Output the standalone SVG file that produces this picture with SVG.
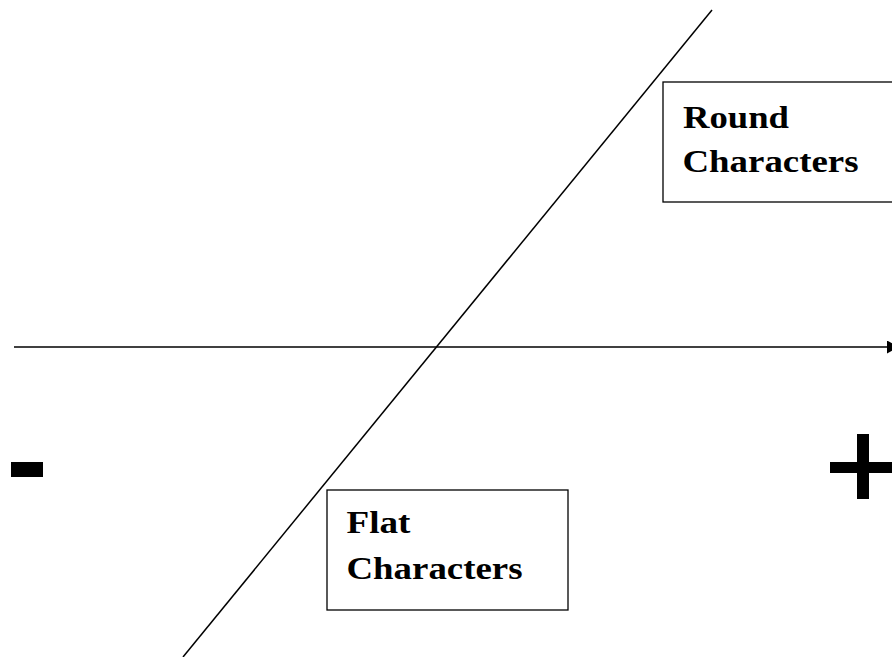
<svg xmlns="http://www.w3.org/2000/svg" width="892" height="657" viewBox="0 0 892 657">
<style>
.box{fill:#fff;stroke:#000;stroke-width:1.3}
.ln{stroke:#000;stroke-width:1.5;fill:none}
.lbl{font-family:"Liberation Serif",serif;font-weight:bold;font-size:36px;fill:#000}
</style>
<defs>
<marker id="arr" markerWidth="12" markerHeight="13" refX="0" refY="6.5" orient="auto" markerUnits="userSpaceOnUse">
<path d="M0,0 L12,6.5 L0,13 Z" fill="#000"/>
</marker>
</defs>
<rect width="892" height="657" fill="#fff"/>
<g id="connectors">
<line class="ln" x1="14" y1="347" x2="887" y2="347" marker-end="url(#arr)"/>
<line class="ln" x1="712" y1="10" x2="183" y2="657"/>
</g>
<g id="round">
<rect class="box" x="663" y="82" width="235" height="120"/>
<text class="lbl" transform="translate(683,127.5) scale(1,0.87)" textLength="106" lengthAdjust="spacingAndGlyphs">Round</text>
<text class="lbl" transform="translate(682.5,172.3) scale(1,0.87)" textLength="176" lengthAdjust="spacingAndGlyphs">Characters</text>
</g>
<g id="flat">
<rect class="box" x="327" y="490" width="241" height="120"/>
<text class="lbl" transform="translate(346.5,533.3) scale(1,0.87)" textLength="64" lengthAdjust="spacingAndGlyphs">Flat</text>
<text class="lbl" transform="translate(346.5,579) scale(1,0.87)" textLength="176" lengthAdjust="spacingAndGlyphs">Characters</text>
</g>
<g id="minus">
<rect x="11" y="462" width="32" height="15" fill="#000"/>
</g>
<g id="plus">
<rect x="857" y="434" width="12" height="65" fill="#000"/>
<rect x="830" y="462" width="66" height="11" fill="#000"/>
</g>
</svg>
